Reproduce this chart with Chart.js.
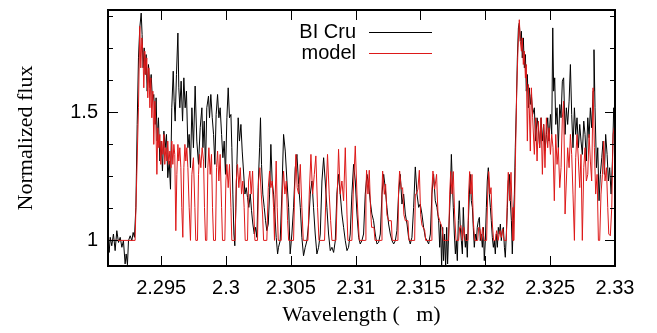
<!DOCTYPE html>
<html>
<head>
<meta charset="utf-8">
<script src="https://cdn.jsdelivr.net/npm/chart.js@4.4.0/dist/chart.umd.min.js"></script>
<style>
  html, body { margin: 0; padding: 0; background: #fff; }
  #wrap { width: 657px; height: 333px; }
</style>
</head>
<body>
<div id="wrap"><canvas id="spec" width="657" height="333"></canvas></div>
<script>
// ── DATA ──
const xTickValues = [2.295, 2.3, 2.305, 2.31, 2.315, 2.32, 2.325, 2.33];
const xTickLabels = ['2.295', '2.3', '2.305', '2.31', '2.315', '2.32', '2.325', '2.33'];
const yTickValues = [1, 1.125, 1.25, 1.375, 1.5, 1.625, 1.75, 1.875];
const yTickLabels = ['1', '', '', '', '1.5', '', '', ''];
const seriesNames  = ['BI Cru', 'model'];

// BI Cru, observed
const obsWave = [
  2.29091,2.29099,2.29107,2.29119,2.29132,2.29145,2.29158,2.29171,2.29184,2.29197,
  2.29209,2.29222,2.2923,2.2924,2.29248,2.29261,2.29274,2.29284,2.29294,2.29305,
  2.29315,2.29325,2.29335,2.29346,2.29353,2.29361,2.29369,2.29377,2.29384,2.29392,
  2.29402,2.29413,2.29423,2.29433,2.29443,2.29454,2.29461,2.29469,2.29479,2.2949,
  2.295,2.2951,2.29521,2.29531,2.29541,2.29551,2.29562,2.29572,2.29582,2.29593,
  2.296,2.29608,2.29618,2.29629,2.29636,2.29644,2.29654,2.29665,2.29675,2.29685,
  2.29695,2.29706,2.29716,2.29726,2.29737,2.29749,2.29762,2.29775,2.29788,2.29801,
  2.29814,2.29822,2.29832,2.29842,2.29852,2.29865,2.29873,2.29883,2.29894,2.29904,
  2.29914,2.29924,2.29935,2.29945,2.29955,2.29966,2.29976,2.29986,2.29996,2.30007,
  2.30017,2.30027,2.30038,2.30045,2.30053,2.30061,2.30068,2.30076,2.30084,2.30094,
  2.30104,2.30115,2.30125,2.30135,2.30146,2.30156,2.30166,2.30176,2.30187,2.30197,
  2.30207,2.30218,2.30228,2.30238,2.30248,2.30259,2.30266,2.30274,2.30284,2.30295,
  2.30305,2.30315,2.30326,2.30336,2.30346,2.30356,2.30367,2.30377,2.30387,2.30398,
  2.30405,2.30418,2.30431,2.30444,2.30457,2.3047,2.30483,2.30495,2.30508,2.30521,
  2.30534,2.30547,2.3056,2.30573,2.30585,2.30598,2.30611,2.30624,2.30637,2.3065,
  2.30663,2.30675,2.30688,2.30701,2.30714,2.30727,2.3074,2.30753,2.30765,2.30778,
  2.30791,2.30804,2.30817,2.3083,2.30843,2.30855,2.30868,2.30881,2.30894,2.30907,
  2.3092,2.30933,2.30945,2.30958,2.30971,2.30984,2.30997,2.3101,2.31023,2.31035,
  2.31048,2.31061,2.31074,2.31087,2.311,2.31112,2.31125,2.31138,2.31151,2.31164,
  2.31177,2.3119,2.31203,2.31216,2.31228,2.31241,2.31254,2.31267,2.3128,2.31293,
  2.31306,2.31318,2.31331,2.31344,2.31357,2.3137,2.31383,2.31396,2.31408,2.31421,
  2.31434,2.31447,2.3146,2.31473,2.31486,2.31498,2.31511,2.31524,2.31537,2.3155,
  2.31563,2.31576,2.31588,2.31601,2.31614,2.31627,2.3164,2.31648,2.31655,2.31663,
  2.31671,2.31678,2.31686,2.31694,2.31702,2.31709,2.31717,2.3173,2.31738,2.31745,
  2.31753,2.31761,2.31769,2.31776,2.31784,2.31792,2.31799,2.31807,2.31815,2.31823,
  2.3183,2.31838,2.31846,2.31853,2.31861,2.31869,2.31877,2.31884,2.31892,2.319,
  2.31907,2.31915,2.31923,2.31931,2.31938,2.31946,2.31954,2.31961,2.31969,2.31977,
  2.31985,2.31992,2.32,2.32008,2.32015,2.32023,2.32031,2.32039,2.32046,2.32054,
  2.32062,2.32069,2.32077,2.32085,2.32093,2.321,2.32108,2.32116,2.32123,2.32131,
  2.32139,2.32147,2.32154,2.32162,2.3217,2.32177,2.32185,2.32193,2.32201,2.32208,
  2.32216,2.32224,2.32231,2.32239,2.32247,2.32255,2.32262,2.3227,2.32278,2.32285,
  2.32293,2.32301,2.32309,2.32316,2.32324,2.32332,2.32339,2.32347,2.32355,2.32365,
  2.32378,2.32388,2.32399,2.32409,2.32419,2.3243,2.3244,2.3245,2.3246,2.32471,
  2.32481,2.32491,2.32502,2.32512,2.3252,2.32527,2.32535,2.32543,2.32553,2.32563,
  2.32574,2.32584,2.32594,2.32604,2.32615,2.32625,2.32635,2.32646,2.32656,2.32666,
  2.32676,2.32687,2.32697,2.32707,2.32718,2.32728,2.32738,2.32748,2.32759,2.32769,
  2.32779,2.3279,2.328,2.3281,2.3282,2.32831,2.32838,2.32846,2.32857,2.32867,
  2.32877,2.32887,2.32898,2.32908,2.32918,2.32928,2.32939,2.32949,2.32959,2.3297,
  2.3298,2.3299,2.33001
];
const obsFlux = [
  1.000,0.953,1.012,0.979,1.025,0.960,1.038,0.992,1.012,0.973,
  0.999,0.908,0.947,0.905,0.999,1.018,0.999,1.031,1.012,1.129,
  1.453,1.713,1.830,1.888,1.804,1.674,1.752,1.648,1.726,1.583,
  1.687,1.596,1.648,1.544,1.570,1.453,1.557,1.388,1.479,1.310,
  1.388,1.271,1.427,1.362,1.414,1.245,1.310,1.200,1.518,1.661,
  1.544,1.466,1.648,1.810,1.596,1.518,1.622,1.466,1.635,1.518,
  1.583,1.362,1.414,1.284,1.518,1.362,1.603,1.388,1.297,1.440,
  1.518,1.362,1.466,1.284,1.518,1.564,1.479,1.570,1.479,1.414,
  1.297,1.492,1.570,1.479,1.518,1.414,1.323,1.388,1.258,1.479,
  1.596,1.479,1.492,1.362,1.181,1.025,0.979,1.129,1.297,1.479,
  1.388,1.453,1.349,1.271,1.181,1.206,1.168,1.129,1.181,1.116,
  1.064,1.025,1.051,1.012,1.206,1.362,1.479,1.297,1.181,1.129,
  1.077,1.038,1.064,1.181,1.375,1.232,1.181,1.103,1.012,0.947,
  0.973,0.999,1.181,1.414,1.349,1.232,1.129,0.947,1.025,1.129,
  1.284,1.336,1.219,1.129,1.012,0.940,0.973,0.999,1.064,1.181,
  1.232,1.129,1.025,0.947,0.973,1.025,1.232,1.323,1.232,1.129,
  1.025,0.960,0.973,0.953,0.999,1.181,1.258,1.181,1.103,1.051,
  0.999,0.960,0.973,1.025,1.181,1.297,1.232,1.103,1.012,0.986,
  0.999,1.025,1.181,1.258,1.219,1.155,1.103,1.077,1.025,0.986,
  0.992,1.025,1.181,1.258,1.206,1.129,1.064,1.025,0.999,0.986,
  0.999,1.038,1.181,1.258,1.142,1.181,1.103,1.064,1.012,0.986,
  1.012,1.129,1.287,1.181,1.129,1.142,1.103,1.051,1.012,0.999,
  0.986,1.025,1.181,1.258,1.155,1.129,1.077,0.973,1.064,0.895,
  1.051,0.921,1.025,0.895,1.051,0.908,1.025,1.181,1.336,1.232,
  1.129,1.025,0.947,0.999,0.921,1.077,1.155,1.051,0.999,0.947,
  1.129,1.025,0.973,1.025,0.934,1.077,1.181,1.258,1.155,1.129,
  1.051,0.973,1.025,0.999,1.051,1.077,1.090,0.999,1.025,0.973,
  1.051,0.921,0.999,1.129,1.232,1.284,1.181,1.129,1.077,1.012,
  0.973,0.999,0.947,1.025,0.973,1.051,1.025,1.064,0.999,1.038,
  1.051,0.973,0.934,1.025,1.129,1.232,1.258,1.155,1.077,0.947,
  1.077,1.181,1.362,1.518,1.713,1.830,1.849,1.778,1.817,1.713,
  1.791,1.674,1.726,1.583,1.648,1.518,1.596,1.531,1.570,1.492,
  1.518,1.388,1.479,1.440,1.362,1.479,1.388,1.453,1.349,1.414,
  1.479,1.388,1.492,1.414,1.830,1.583,1.635,1.453,1.518,1.362,
  1.531,1.479,1.622,1.635,1.414,1.518,1.453,1.544,1.687,1.492,
  1.362,1.518,1.414,1.479,1.362,1.453,1.388,1.336,1.466,1.414,
  1.310,1.479,1.401,1.518,1.440,1.583,1.745,1.518,1.284,1.362,
  1.155,1.258,1.323,1.388,1.258,1.414,1.336,1.232,1.284,1.181,
  1.310,1.518,1.440
];

// model
const modelWave = [
  2.29091,2.29299,2.29312,2.29325,2.29335,2.29343,2.29351,2.29359,2.29366,2.29374,
  2.29382,2.29389,2.29397,2.29405,2.29413,2.2942,2.29428,2.29436,2.29443,2.29451,
  2.29459,2.29467,2.29474,2.29482,2.2949,2.29497,2.29505,2.29513,2.29521,2.29528,
  2.29536,2.29544,2.29551,2.29559,2.29567,2.29575,2.29582,2.2959,2.29598,2.29605,
  2.29613,2.29621,2.29629,2.29636,2.29644,2.29652,2.29659,2.29667,2.29675,2.29683,
  2.2969,2.29698,2.29706,2.29716,2.29726,2.29737,2.29749,2.2976,2.29767,2.2978,
  2.29788,2.29796,2.29806,2.29816,2.29827,2.29834,2.29842,2.29852,2.2986,2.29868,
  2.29878,2.29888,2.29896,2.29904,2.29919,2.29927,2.29935,2.29945,2.29955,2.29966,
  2.29973,2.29991,2.29999,2.30007,2.30017,2.30027,2.30038,2.30045,2.30071,2.30079,
  2.30089,2.30099,2.3011,2.3012,2.3013,2.3014,2.30148,2.30166,2.30174,2.30184,
  2.30194,2.30205,2.30215,2.30223,2.30243,2.30251,2.30261,2.30272,2.30282,2.3029,
  2.30315,2.30326,2.30336,2.30346,2.30356,2.30367,2.30374,2.3038,2.30387,2.30395,
  2.30403,2.30426,2.30434,2.30444,2.30454,2.30465,2.30475,2.30483,2.30521,2.30529,
  2.30539,2.30549,2.3056,2.30573,2.30585,2.30596,2.30632,2.30642,2.30655,2.30668,
  2.30681,2.30693,2.30706,2.30717,2.3076,2.30771,2.30783,2.30796,2.30807,2.30817,
  2.30848,2.30858,2.30868,2.30881,2.30894,2.30907,2.3092,2.30933,2.3094,2.30971,
  2.30981,2.30997,2.3101,2.31017,2.31028,2.31074,2.31079,2.31084,2.31095,2.31105,
  2.31115,2.31123,2.31141,2.31149,2.31198,2.31203,2.31208,2.31221,2.31231,2.31241,
  2.31254,2.31275,2.31282,2.31326,2.31331,2.31339,2.31352,2.31362,2.31372,2.31383,
  2.31403,2.31411,2.31455,2.3146,2.31468,2.3148,2.31491,2.31501,2.31511,2.31532,
  2.3154,2.31583,2.31588,2.31596,2.31609,2.31624,2.31635,2.31648,2.31666,2.31676,
  2.31717,2.31725,2.31733,2.31743,2.31753,2.31763,2.31774,2.31794,2.31802,2.31812,
  2.31823,2.31833,2.31846,2.31866,2.31871,2.31879,2.31889,2.31897,2.31907,2.31918,
  2.31941,2.31949,2.31959,2.31969,2.31979,2.3199,2.3201,2.32018,2.32026,2.32036,
  2.32044,2.32054,2.32064,2.32077,2.32087,2.32098,2.32113,2.32123,2.32134,2.32144,
  2.32162,2.3217,2.32177,2.32188,2.32198,2.32206,2.32213,2.32221,2.32231,2.32242,
  2.32252,2.32262,2.3227,2.32278,2.32285,2.32293,2.32301,2.32309,2.32316,2.32324,
  2.32332,2.32339,2.32347,2.32355,2.32365,2.32378,2.32388,2.32399,2.32409,2.32419,
  2.3243,2.3244,2.3245,2.3246,2.32471,2.32481,2.32491,2.32502,2.32512,2.32522,
  2.32532,2.32543,2.32553,2.32563,2.32574,2.32584,2.32594,2.32604,2.32615,2.32625,
  2.32635,2.32646,2.32656,2.32666,2.32676,2.32687,2.32697,2.32707,2.32718,2.32728,
  2.32738,2.32748,2.32759,2.32769,2.32779,2.3279,2.328,2.3281,2.3282,2.32831,
  2.32841,2.32851,2.32862,2.32872,2.32882,2.32892,2.32903,2.32913,2.32923,2.32934,
  2.32944,2.32952,2.32964,2.32975,2.32985,2.32995,2.33001
];
const modelFlux = [
  1.000,1.000,1.258,1.518,1.836,1.674,1.791,1.739,1.596,1.739,
  1.648,1.713,1.557,1.674,1.518,1.635,1.479,1.583,1.375,1.544,
  1.453,1.258,1.440,1.362,1.414,1.297,1.388,1.336,1.414,1.297,
  1.362,1.310,1.388,1.297,1.349,1.284,1.388,1.297,1.375,1.336,
  1.038,1.258,1.375,1.310,1.362,1.284,1.129,1.012,1.284,1.375,
  1.310,1.362,1.284,1.129,1.000,1.258,1.323,1.129,1.000,1.000,
  1.258,1.336,1.284,1.362,1.310,1.129,1.000,1.000,1.284,1.362,
  1.258,1.336,1.129,1.000,1.000,1.284,1.349,1.232,1.336,1.129,
  1.000,1.000,1.232,1.297,1.206,1.297,1.129,1.000,1.000,1.232,
  1.297,1.206,1.284,1.181,1.232,1.129,1.000,1.000,1.232,1.271,
  1.181,1.271,1.103,1.000,1.000,1.232,1.284,1.181,1.103,1.000,
  1.000,1.206,1.271,1.206,1.232,1.129,1.000,1.181,1.310,1.129,
  1.000,1.000,1.181,1.271,1.181,1.232,1.077,1.000,1.000,1.181,
  1.336,1.206,1.181,1.297,1.129,1.000,1.000,1.181,1.336,1.181,
  1.258,1.330,1.129,1.000,1.000,1.181,1.336,1.181,1.077,1.000,
  1.000,1.181,1.356,1.181,1.232,1.155,1.362,1.103,1.000,1.000,
  1.181,1.369,1.181,1.103,1.000,1.000,1.181,1.274,1.181,1.274,
  1.120,1.051,1.051,1.000,1.000,1.200,1.271,1.180,1.220,1.100,
  1.077,1.077,1.000,1.000,1.200,1.271,1.200,1.206,1.100,1.077,
  1.077,1.000,1.000,1.180,1.181,1.200,1.274,1.100,1.060,1.040,
  1.000,1.000,1.200,1.271,1.200,1.258,1.100,1.077,1.051,1.000,
  1.000,1.181,1.269,1.181,1.269,1.103,1.000,1.000,1.051,1.058,
  1.000,1.051,1.000,1.000,1.181,1.269,1.181,1.258,1.077,1.000,
  1.000,1.051,1.045,1.000,1.051,1.000,1.000,1.181,1.269,1.181,
  1.206,1.064,1.000,1.000,1.038,1.000,1.038,1.012,1.045,1.000,
  1.000,1.181,1.266,1.155,1.266,1.129,1.000,1.000,1.284,1.583,
  1.752,1.862,1.778,1.739,1.791,1.687,1.739,1.635,1.687,1.388,
  1.609,1.518,1.349,1.596,1.479,1.336,1.479,1.310,1.466,1.362,
  1.479,1.258,1.453,1.284,1.479,1.362,1.440,1.336,1.414,1.362,
  1.155,1.414,1.297,1.362,1.206,1.284,1.479,1.544,1.103,1.232,
  1.362,1.284,1.414,1.336,1.181,1.000,1.323,1.414,1.310,1.206,
  1.336,1.000,1.284,1.362,1.232,1.258,1.414,1.310,1.232,1.596,
  1.362,1.181,1.258,1.000,1.000,1.181,1.258,1.388,1.232,1.284,
  1.129,1.025,1.018,1.129,1.414,1.440,1.388
];

const toPoints = (w, f) => w.slice(0, Math.min(w.length, f.length)).map((x, i) => ({ x, y: f[i] }));

const SANS  = "'Liberation Sans', Arial, sans-serif";
const SERIF = "'Liberation Serif', 'Times New Roman', serif";
const INK   = '#000000';
const RED   = '#dd1818';
const lineColors = [INK, RED];

// ── frame + inward ticks (gnuplot look) ──
const frameTicks = {
  id: 'frameTicks',
  afterDatasetsDraw(chart) {
    const { ctx, chartArea: a, scales: { x, y } } = chart;
    ctx.save();
    ctx.strokeStyle = INK;
    ctx.lineWidth = 1;
    ctx.beginPath();
    xTickValues.forEach(v => {
      const px = Math.round(x.getPixelForValue(v)) + 0.5;
      ctx.moveTo(px, a.bottom); ctx.lineTo(px, a.bottom - 10);
      ctx.moveTo(px, a.top);    ctx.lineTo(px, a.top + 10);
    });
    yTickValues.forEach((v, i) => {
      const py  = Math.round(y.getPixelForValue(v)) + 0.5;
      const len = yTickLabels[i] ? 10 : 5;
      ctx.moveTo(a.left, py);  ctx.lineTo(a.left + len, py);
      ctx.moveTo(a.right, py); ctx.lineTo(a.right - len, py);
    });
    ctx.stroke();
    ctx.lineWidth = 2;
    ctx.strokeRect(a.left, a.top, a.right - a.left, a.bottom - a.top);
    ctx.restore();
  }
};

// ── key, top centre ──
const keyBox = {
  id: 'keyBox',
  afterDatasetsDraw(chart) {
    const { ctx } = chart;
    ctx.save();
    ctx.font = '20px ' + SANS;
    ctx.textAlign = 'right';
    ctx.textBaseline = 'middle';
    seriesNames.forEach((name, i) => {
      const yy = 32 + i * 21;
      ctx.fillStyle = INK;
      ctx.fillText(name, 356, yy);
      ctx.strokeStyle = lineColors[i];
      ctx.lineWidth = 1.2;
      ctx.beginPath();
      ctx.moveTo(369, yy + 0.5); ctx.lineTo(432, yy + 0.5);
      ctx.stroke();
    });
    ctx.restore();
  }
};

new Chart(document.getElementById('spec'), {
  type: 'line',
  data: {
    datasets: [
      { label: seriesNames[0], data: toPoints(obsWave, obsFlux), borderColor: INK, borderWidth: 1,
        pointRadius: 0, tension: 0, order: 2 },
      { label: seriesNames[1], data: toPoints(modelWave, modelFlux), borderColor: RED, borderWidth: 1,
        pointRadius: 0, tension: 0, order: 1 }
    ]
  },
  options: {
    responsive: false,
    animation: false,
    events: [],
    layout: { padding: { top: 10, right: 42, left: 0, bottom: 0 } },
    plugins: { legend: { display: false }, tooltip: { enabled: false } },
    scales: {
      x: {
        type: 'linear', min: 2.2909, max: 2.33,
        afterBuildTicks: s => { s.ticks = xTickValues.map(v => ({ value: v })); },
        afterFit: s => { s.height = 67; s.paddingLeft = 0; s.paddingRight = 0; },
        grid: { display: false, drawTicks: false },
        border: { display: false },
        ticks: { callback: (v, i) => xTickLabels[i], color: INK, padding: 10,
                 maxRotation: 0, autoSkip: false, font: { family: SANS, size: 20 } },
        title: { display: true, text: 'Wavelength (   m)', color: INK,
                 font: { family: SERIF, size: 22 }, padding: { top: 0, bottom: 5 } }
      },
      y: {
        type: 'linear', min: 0.9, max: 1.9,
        afterBuildTicks: s => { s.ticks = yTickValues.map(v => ({ value: v })); },
        afterFit: s => { s.width = 108; s.paddingTop = 0; s.paddingBottom = 0; },
        grid: { display: false, drawTicks: false },
        border: { display: false },
        ticks: { callback: (v, i) => yTickLabels[i], color: INK, padding: 10,
                 autoSkip: false, font: { family: SANS, size: 20 } },
        title: { display: true, text: 'Normalized flux', color: INK,
                 font: { family: SERIF, size: 22 }, padding: { top: 13, bottom: 0 } }
      }
    }
  },
  plugins: [frameTicks, keyBox]
});
</script>
</body>
</html>
